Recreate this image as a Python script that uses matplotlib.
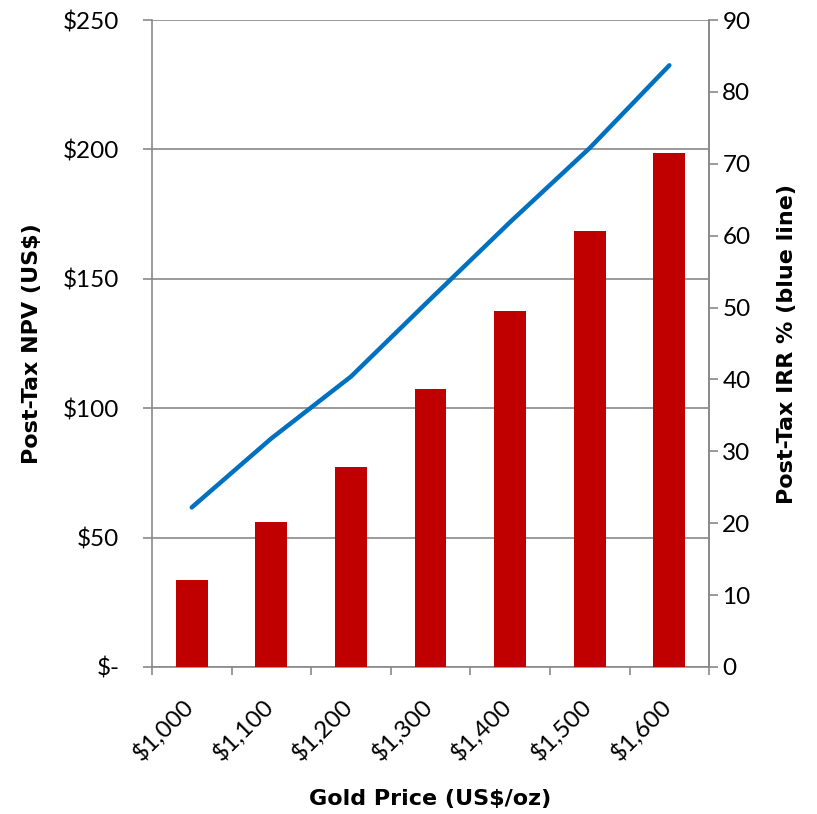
import matplotlib.pyplot as plt
from matplotlib.transforms import ScaledTranslation

# Data
gold_prices = ["$1,000", "$1,100", "$1,200", "$1,300", "$1,400", "$1,500", "$1,600"]
npv = [33.6, 56.0, 77.2, 107.3, 137.5, 168.3, 198.8]
irr = [22.2, 31.8, 40.4, 51.2, 61.9, 72.2, 83.7]
npv_ticks = [0, 50, 100, 150, 200, 250]
npv_tick_labels = ["$-", "$50", "$100", "$150", "$200", "$250"]
irr_ticks = [0, 10, 20, 30, 40, 50, 60, 70, 80, 90]

plt.rcParams['font.family'] = ['Lato', 'DejaVu Sans']
grey = '#898989'
tick_fs = 17.5
label_font = dict(family='DejaVu Sans', fontsize=16, fontweight='bold')

fig = plt.figure(figsize=(8.17, 8.14), dpi=100)
ax = fig.add_axes([0.186, 0.1806, 0.682, 0.7948])
x = list(range(len(gold_prices)))

ax.bar(x, npv, width=0.4, color='#C00000', zorder=3)
ax.set_xlim(-0.5, len(gold_prices) - 0.5)
ax.set_ylim(0, 250)
ax.set_yticks(npv_ticks)
ax.set_yticklabels(npv_tick_labels, fontsize=tick_fs)
ax.yaxis.grid(True, color=grey, linewidth=1.2, zorder=0)
ax.set_axisbelow(True)

ax.set_xticks(x)
ax.set_xticklabels(gold_prices, rotation=45, ha='right', rotation_mode='anchor', fontsize=tick_fs)
ax.set_xticks([i - 0.5 for i in range(len(gold_prices) + 1)], minor=True)
ax.tick_params(axis='x', which='major', length=0, pad=20)
ax.tick_params(axis='x', which='minor', length=6, color=grey, width=1.2)
ax.tick_params(axis='y', length=6.5, color=grey, width=1.2, pad=17)
# nudge the rotated labels a little to the left
shift = ScaledTranslation(-7 / 72, 0, fig.dpi_scale_trans)
for lbl in ax.get_xticklabels():
    lbl.set_transform(lbl.get_transform() + shift)

for side in ['left', 'bottom', 'right']:
    ax.spines[side].set_color(grey)
    ax.spines[side].set_linewidth(1.2)
ax.spines['top'].set_visible(False)

ax.set_ylabel("Post-Tax NPV (US$)", **label_font)
ax.yaxis.set_label_coords(-0.1975, 0.5)
ax.set_xlabel("Gold Price (US$/oz)", **label_font)
ax.xaxis.set_label_coords(0.5, -0.189)

ax2 = ax.twinx()
ax2.plot(x, irr, color='#0070C0', linewidth=3.2, solid_capstyle='round', zorder=4)
ax2.set_ylim(0, 90)
ax2.set_yticks(irr_ticks)
ax2.tick_params(axis='y', length=6.5, color=grey, width=1.2, labelsize=tick_fs, pad=3)
for side in ['left', 'bottom', 'top']:
    ax2.spines[side].set_visible(False)
ax2.spines['right'].set_color(grey)
ax2.spines['right'].set_linewidth(1.2)
ax2.set_ylabel("Post-Tax IRR % (blue line)", **label_font)
ax2.yaxis.set_label_coords(1.122, 0.5)

fig.savefig("out.png", dpi=100)
